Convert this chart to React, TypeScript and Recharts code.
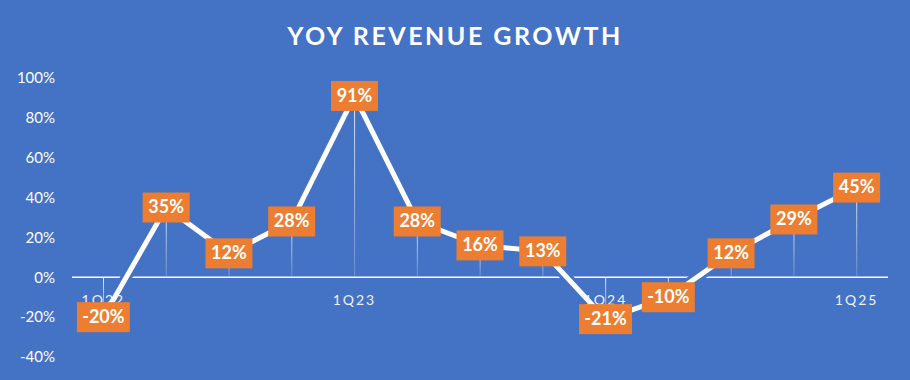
import { Bar, ComposedChart, LabelList, Line, ReferenceLine, XAxis, YAxis } from 'recharts';

const quarters = ['1Q22', '2Q22', '3Q22', '4Q22', '1Q23', '2Q23', '3Q23', '4Q23', '1Q24', '2Q24', '3Q24', '4Q24', '1Q25'];
const growth = [-20, 35, 12, 28, 91, 28, 16, 13, -21, -10, 12, 29, 45];
const yTicks = [-40, -20, 0, 20, 40, 60, 80, 100];

const BG = '#4472C4';
const ORANGE = '#ED7D31';
const FONT = 'Lato, "Open Sans", sans-serif';

const W = 910;
const H = 380;
const MARGIN = { top: 78, right: 22, bottom: 22, left: 8 };
const PLOT_BOTTOM = H - MARGIN.bottom - 1;
const ZERO_Y = MARGIN.top + (100 / 140) * (PLOT_BOTTOM - MARGIN.top);

const data = quarters.map((q, i) => ({ quarter: q, value: growth[i] }));

const QuarterTick = ({ x, payload }: { x?: number; payload?: { value: string } }) => (
  <text
    x={x}
    y={ZERO_Y + 24}
    fill="#eef2fa"
    fontSize={14}
    fontFamily={FONT}
    letterSpacing={2}
    textAnchor="middle"
    dominantBaseline="middle"
  >
    {payload?.value}
  </text>
);

const ValueBox = (props: { x?: number; y?: number; value?: number }) => {
  const { x, y, value } = props;
  if (x == null || y == null || value == null) return null;
  const digits = String(Math.abs(value)).length;
  const w = 27 + digits * 10 + (value < 0 ? 6 : 0);
  const h = 30;
  return (
    <g>
      <rect x={x - w / 2} y={y - h / 2} width={w} height={h} fill={ORANGE} />
      <text
        x={x}
        y={y + 1}
        fill="#fff"
        fontSize={18}
        fontWeight={700}
        fontFamily={FONT}
        textAnchor="middle"
        dominantBaseline="middle"
      >
        {`${value}%`}
      </text>
    </g>
  );
};

export default function App() {
  return (
    <div style={{ position: 'absolute', left: 0, top: 0, width: W, height: H, background: BG }}>
      <div
        style={{
          position: 'absolute',
          top: 20,
          width: W,
          textAlign: 'center',
          color: '#fff',
          fontFamily: FONT,
          fontWeight: 700,
          fontSize: 25,
          letterSpacing: 2.5,
        }}
      >
        YOY REVENUE GROWTH
      </div>
      <ComposedChart width={W} height={H} data={data} margin={MARGIN}>
        <defs>
          <linearGradient id="dropGrad" x1="0" y1="0" x2="0" y2="1">
            <stop offset="0%" stopColor="#ffffff" stopOpacity={0.85} />
            <stop offset="100%" stopColor="#ffffff" stopOpacity={0.2} />
          </linearGradient>
        </defs>
        <XAxis
          dataKey="quarter"
          height={1}
          axisLine={false}
          tickLine={false}
          tickSize={0}
          interval={3}
          tick={(p: any) => <QuarterTick x={p.x} payload={p.payload} />}
        />
        <YAxis
          domain={[-40, 100]}
          ticks={yTicks}
          width={64}
          axisLine={false}
          tickLine={false}
          tickSize={0}
          tickMargin={17}
          tickFormatter={(v: number) => `${v}%`}
          tick={{ fill: '#fff', fontSize: 15, fontFamily: FONT }}
        />
        <ReferenceLine y={0} stroke="#fff" strokeWidth={1.5} />
        <Bar dataKey="value" barSize={1} fill="url(#dropGrad)" isAnimationActive={false} />
        <Line
          dataKey="value"
          stroke={BG}
          strokeWidth={11}
          dot={false}
          type="linear"
          isAnimationActive={false}
        />
        <Line
          dataKey="value"
          stroke="#fff"
          strokeWidth={5}
          dot={false}
          type="linear"
          isAnimationActive={false}
        >
          <LabelList dataKey="value" content={<ValueBox />} />
        </Line>
      </ComposedChart>
    </div>
  );
}
